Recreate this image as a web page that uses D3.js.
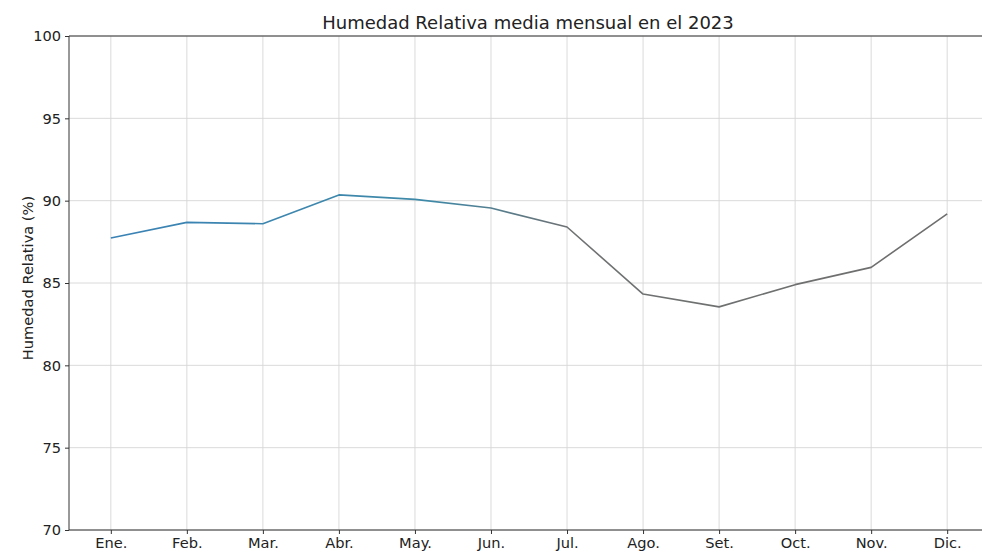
<!DOCTYPE html>
<html>
<head>
<meta charset="utf-8">
<script src="https://cdn.jsdelivr.net/npm/d3@7/dist/d3.min.js"></script>
<style>
  html, body { margin: 0; padding: 0; background: #fff; overflow: hidden; }
  svg { display: block; overflow: hidden; font-family: "DejaVu Sans", sans-serif; }
</style>
</head>
<body>
<svg id="chart" width="982" height="552"></svg>
<script>
// Monthly mean relative humidity, 2023
const months = ["Ene.", "Feb.", "Mar.", "Abr.", "May.", "Jun.", "Jul.", "Ago.", "Set.", "Oct.", "Nov.", "Dic."];
const humidity = [87.73, 88.68, 88.6, 90.35, 90.08, 89.55, 88.4, 84.33, 83.55, 84.9, 85.95, 89.2];
const yTicks = [70, 75, 80, 85, 90, 95, 100];

const W = 982;
const svg = d3.select("#chart");
const margin = { left: 69, right: 989, top: 36, bottom: 530 };
const visibleRight = Math.min(margin.right, W);

// Categorical positions with 5% padding on each side
const n = months.length;
const x = d3.scaleLinear()
  .domain([-0.55, n - 1 + 0.55])
  .range([margin.left, margin.right]);
const y = d3.scaleLinear().domain([70, 100]).range([margin.bottom, margin.top]);

// Gridlines
const grid = svg.append("g").attr("stroke", "#d6d6d6").attr("stroke-width", 0.9);
grid.selectAll("line.v").data(months).join("line")
  .attr("x1", (d, i) => x(i)).attr("x2", (d, i) => x(i))
  .attr("y1", margin.top).attr("y2", margin.bottom);
grid.selectAll("line.h").data(yTicks).join("line")
  .attr("x1", margin.left).attr("x2", visibleRight)
  .attr("y1", d => y(d)).attr("y2", d => y(d));

// Line colour shifts from blue to grey across the year
const defs = svg.append("defs");
const grad = defs.append("linearGradient").attr("id", "lineGrad")
  .attr("gradientUnits", "userSpaceOnUse")
  .attr("x1", x(0)).attr("x2", x(n - 1)).attr("y1", 0).attr("y2", 0);
grad.append("stop").attr("offset", "0%").attr("stop-color", "#3a82b5");
grad.append("stop").attr("offset", "38%").attr("stop-color", "#3f89a8");
grad.append("stop").attr("offset", "55%").attr("stop-color", "#6f7172");
grad.append("stop").attr("offset", "100%").attr("stop-color", "#6e6e6e");

const line = d3.line().x((d, i) => x(i)).y(d => y(d));
svg.append("path").datum(humidity)
  .attr("d", line)
  .attr("fill", "none")
  .attr("stroke", "url(#lineGrad)")
  .attr("stroke-width", 1.6)
  .attr("stroke-linejoin", "round");

// Axes
const xAxis = d3.axisBottom(x).tickValues(d3.range(n)).tickFormat(i => months[i]).tickSize(4).tickPadding(4);
const yAxis = d3.axisLeft(y).tickValues(yTicks).tickSize(4).tickPadding(4);

const gx = svg.append("g").attr("transform", `translate(0,${margin.bottom})`).call(xAxis);
const gy = svg.append("g").attr("transform", `translate(${margin.left},0)`).call(yAxis);
[gx, gy].forEach(g => {
  g.select(".domain").remove();
  g.selectAll("line").attr("stroke", "#333");
  g.selectAll("text").attr("fill", "#222").style("font-size", "14.6px").style("font-family", "DejaVu Sans, sans-serif");
});

// Spines: top, bottom and left (the right one lies past the visible edge)
const spines = svg.append("g").attr("stroke", "#333").attr("stroke-width", 1);
spines.append("line").attr("x1", margin.left).attr("x2", visibleRight).attr("y1", margin.top).attr("y2", margin.top);
spines.append("line").attr("x1", margin.left).attr("x2", visibleRight).attr("y1", margin.bottom).attr("y2", margin.bottom);
spines.append("line").attr("x1", margin.left).attr("x2", margin.left).attr("y1", margin.top).attr("y2", margin.bottom);

// Title and axis label
svg.append("text")
  .attr("x", 528).attr("y", 29)
  .attr("text-anchor", "middle").attr("fill", "#222")
  .style("font-size", "18px")
  .text("Humedad Relativa media mensual en el 2023");

svg.append("text")
  .attr("transform", `translate(27,${(margin.top + margin.bottom) / 2 - 5}) rotate(-90)`)
  .attr("text-anchor", "middle").attr("dominant-baseline", "central").attr("fill", "#222")
  .style("font-size", "14.6px")
  .text("Humedad Relativa (%)");
</script>
</body>
</html>
